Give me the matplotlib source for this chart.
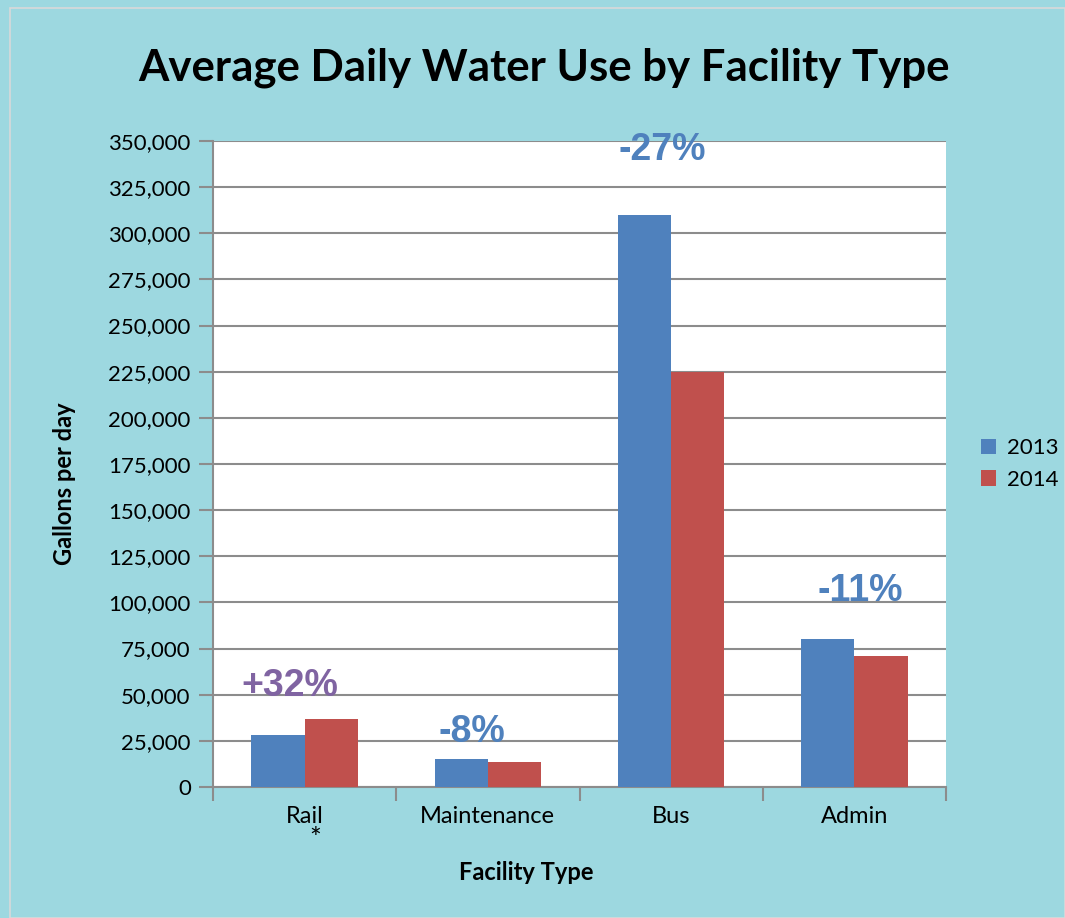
import matplotlib
matplotlib.use("Agg")
import matplotlib.pyplot as plt
from matplotlib.patches import Rectangle
from matplotlib.ticker import FuncFormatter
import numpy as np

# Data
categories = ["Rail", "Maintenance", "Bus", "Admin"]
use_2013 = [28000, 15000, 310000, 80000]
use_2014 = [37000, 13500, 225000, 71000]
change_labels = ["+32%", "-8%", "-27%", "-11%"]
change_colors = ["#8064a2", "#4f81bd", "#4f81bd", "#4f81bd"]

# where the change labels sit (baseline value, x offset from group centre)
label_base = [49500, 24500, 339500, 101000]
label_dx = [-0.08, -0.09, -0.05, 0.03]

BG = "#9dd8e0"
BLUE = "#4f81bd"
RED = "#c0504d"
GRID = "#8c8c8c"

plt.rcParams["font.family"] = ["Lato", "DejaVu Sans"]

fig = plt.figure(figsize=(10.65, 9.18), dpi=100, facecolor=BG)
fig.patches.append(Rectangle((10 / 1065, 0), 1 - 10 / 1065, 1 - 8 / 918,
                             transform=fig.transFigure, fill=False,
                             edgecolor="#d9d9d9", linewidth=1.2))

ax = fig.add_axes([213 / 1065, 1 - 787 / 918, 733 / 1065, 646 / 918])
ax.set_facecolor("white")

x = np.arange(len(categories))
w = 0.29
ax.bar(x - w / 2, use_2013, w, color=BLUE, label="2013", zorder=3)
ax.bar(x + w / 2, use_2014, w, color=RED, label="2014", zorder=3)

for xi, txt, col, yv, dx in zip(x, change_labels, change_colors, label_base, label_dx):
    ax.text(xi + dx, yv, txt, color=col, fontsize=27, fontweight="bold",
            family="Liberation Sans", ha="center", va="baseline", zorder=4)

# asterisk under Rail
ax.text(0.06, -0.062, "*", transform=ax.get_xaxis_transform(),
        ha="center", va="top", fontsize=20)

ax.set_ylim(0, 350000)
ax.set_xlim(-0.5, 3.5)
ax.set_yticks(np.arange(0, 350001, 25000))
ax.yaxis.set_major_formatter(FuncFormatter(lambda v, p: f"{int(v):,}"))
ax.set_xticks(x)
ax.set_xticklabels(categories)
ax.set_xticks(np.arange(-0.5, 4, 1), minor=True)
ax.tick_params(axis="x", which="major", length=0, pad=14, labelsize=17)
ax.tick_params(axis="x", which="minor", length=10, width=1.5, color=GRID)
ax.tick_params(axis="y", length=10, width=1.5, color=GRID, labelsize=16, pad=6)

ax.grid(axis="y", color=GRID, linewidth=1.5, zorder=0)
for s in ["top", "right"]:
    ax.spines[s].set_visible(False)
for s in ["left", "bottom"]:
    ax.spines[s].set_color(GRID)
    ax.spines[s].set_linewidth(1.5)

ax.set_xlabel("Facility Type", fontsize=17, fontweight="bold")
ax.set_ylabel("Gallons per day", fontsize=17, fontweight="bold")
ax.xaxis.set_label_coords(0.427, -0.115)
ax.yaxis.set_label_coords(-0.187, 0.47)

fig.text(544 / 1065, 1 - 68 / 918, "Average Daily Water Use by Facility Type",
         ha="center", va="center", fontsize=31.5, fontweight="bold")

ax.legend(loc="center left", bbox_to_anchor=(1.02, 0.5), frameon=False,
          fontsize=16, handlelength=0.7, handleheight=0.7,
          handletextpad=0.5, labelspacing=0.5)

fig.savefig("out.png", dpi=100, facecolor=BG)
